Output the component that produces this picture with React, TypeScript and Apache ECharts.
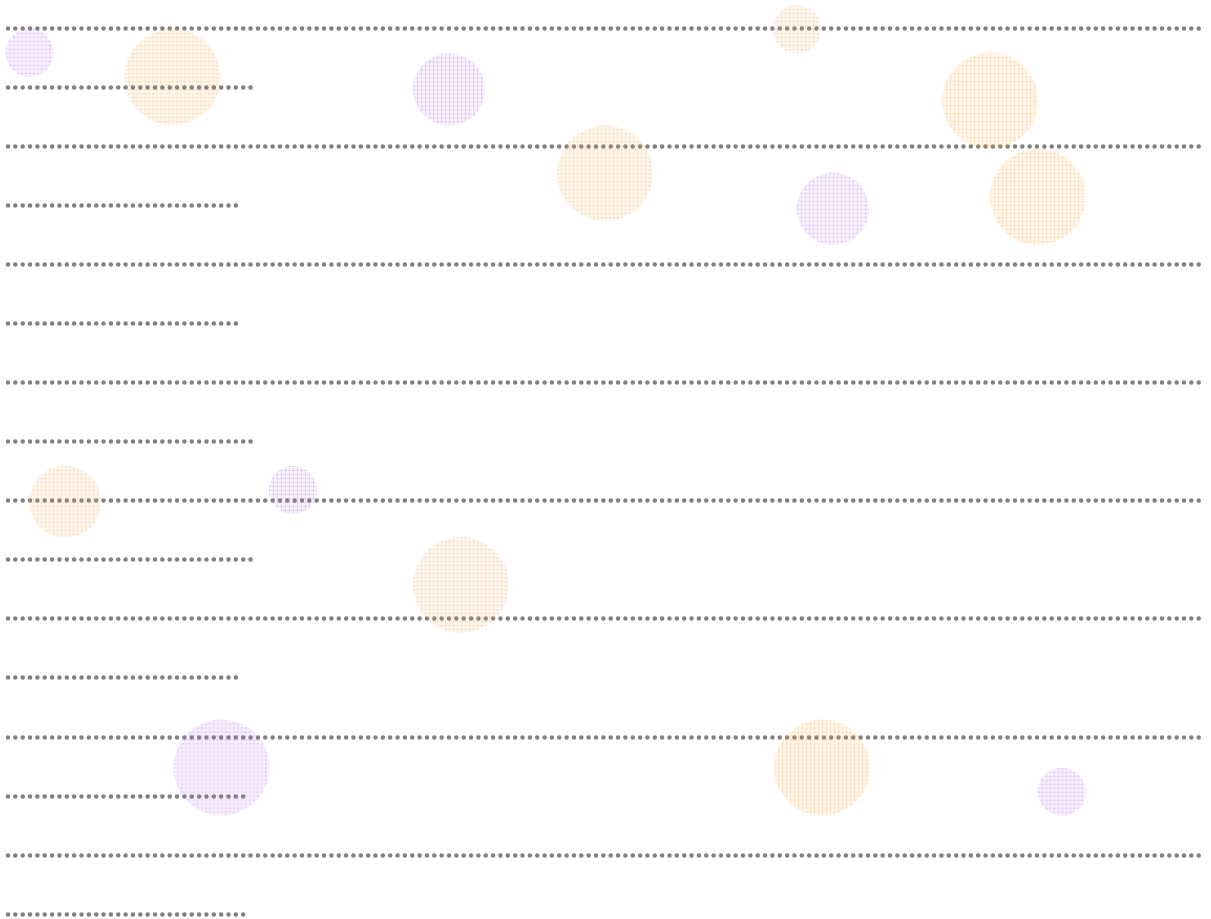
import React, { useEffect, useRef } from "react";
import * as echarts from "echarts";

// Bubble data (x in 0..100, y in 0..150 top-down, size level)
const purpleX = [1.8, 37.0, 69.2, 23.9, 17.9, 88.4];
const purpleY = [4.2, 10.4, 30.6, 78.2, 125.2, 129.3];
const purpleSize = [2, 3, 3, 2, 4, 2];

const orangeX = [13.8, 66.2, 82.4, 50.1, 86.4, 4.8, 38.0, 68.3];
const orangeY = [8.3, 0.2, 12.3, 24.6, 28.6, 80.2, 94.3, 125.2];
const orangeSize = [4, 2, 4, 4, 4, 3, 4, 4];

// Short guide lines: y values and end x values
const shortY = [10, 30, 50, 70, 90, 110, 130, 150];
const shortEnd = [20.5, 19.25, 19.25, 20.5, 20.5, 19.25, 19.85, 19.85];

function makeTile(r: number, g: number, b: number) {
  const c = document.createElement("canvas");
  c.width = 4;
  c.height = 4;
  const ctx = c.getContext("2d")!;
  ctx.fillStyle = `rgba(${r},${g},${b},0.08)`;
  ctx.fillRect(0, 0, 4, 4);
  ctx.fillStyle = `rgba(${r},${g},${b},0.26)`;
  ctx.fillRect(0, 0, 1, 4);
  ctx.fillRect(0, 0, 4, 1);
  return c;
}

export default function App() {
  const ref = useRef<HTMLDivElement>(null);
  useEffect(() => {
    if (!ref.current) return;
    const chart = echarts.init(ref.current, undefined, { renderer: "svg" });
    const dotted = { type: [0, 7.35], width: 4.5, cap: "round", color: "#808080" };
    const purpleTile = makeTile(175, 90, 255);
    const orangeTile = makeTile(255, 160, 60);
    const toItems = (xs: number[], ys: number[], ss: number[], tile: HTMLCanvasElement) =>
      xs.map((x, i) => {
        const size = ss[i] * 24;
        return {
          value: [x, ys[i], ss[i]],
          symbolSize: size,
          itemStyle: {
            color: { image: tile, repeat: "repeat", scaleX: 2 / size, scaleY: 2 / size },
          },
        };
      });
    chart.setOption({
      animation: false,
      grid: { left: 8, right: 11, top: 28, bottom: 5 },
      xAxis: {
        type: "value",
        min: 0,
        max: 100,
        axisLine: { show: false },
        axisTick: { show: false },
        axisLabel: { show: false },
        splitLine: { show: false },
      },
      yAxis: {
        type: "value",
        inverse: true,
        min: 0,
        max: 150,
        interval: 20,
        axisLine: { show: false },
        axisTick: { show: false },
        axisLabel: { show: false },
        splitLine: { show: true, showMaxLine: false, lineStyle: dotted },
      },
      series: [
        {
          type: "scatter",
          data: toItems(purpleX, purpleY, purpleSize, purpleTile),
          silent: true,
          markLine: {
            silent: true,
            symbol: "none",
            label: { show: false },
            lineStyle: dotted,
            data: shortY.map((y, i) => [
              { coord: [0, y] },
              { coord: [shortEnd[i], y] },
            ]),
          },
        },
        {
          type: "scatter",
          data: toItems(orangeX, orangeY, orangeSize, orangeTile),
          silent: true,
        },
      ],
    });
    return () => chart.dispose();
  }, []);
  return (
    <div
      ref={ref}
      style={{ position: "absolute", left: 0, top: 0, width: 1211, height: 919 }}
    />
  );
}
